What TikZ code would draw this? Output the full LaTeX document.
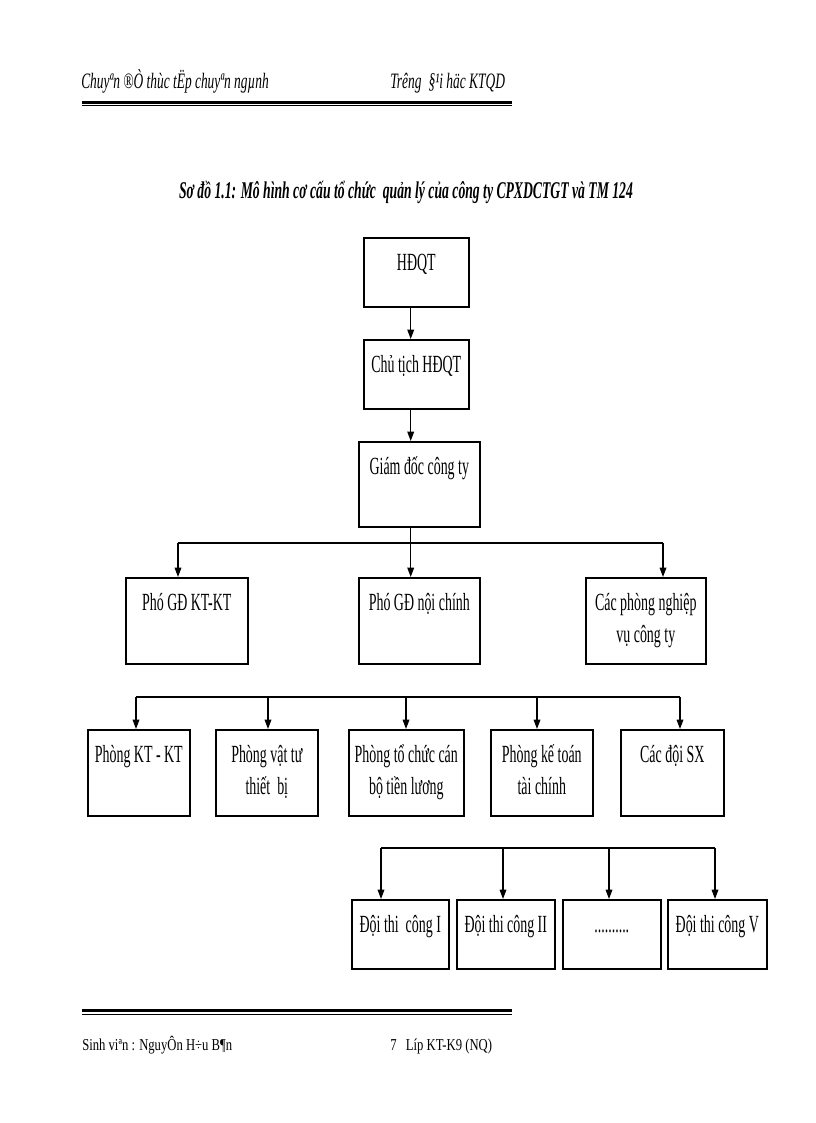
\documentclass[tikz,border=0pt]{standalone}
\usepackage{fontspec}
\setmainfont{Liberation Serif}
\newfontfamily\boxfont[FakeStretch=0.565]{Liberation Serif}
\newfontfamily\headfont[FakeStretch=0.61]{Liberation Serif}
\newfontfamily\titlefont[FakeStretch=0.57]{Liberation Serif}
\newfontfamily\footfont[FakeStretch=0.76]{Liberation Serif}
\usetikzlibrary{arrows.meta}

\tikzset{
  orgbox/.style 2 args={draw, line width=1.2pt, anchor=north west, inner sep=0pt, align=center,
    font=\boxfont\fontsize{18.5}{24}\selectfont, minimum width=#1*0.75pt,
    text height=24.75pt, text depth=#2*0.75pt-24.75pt},
  orgboxtwo/.style 2 args={orgbox={#1}{#2}, text height=48.75pt, text depth=#2*0.75pt-48.75pt},
  conn/.style={line width=0.9pt},
  arr/.style={line width=0.9pt, -{Triangle[length=7pt,width=5pt]}},
  rule/.style={line width=#1},
}

\begin{document}
\begin{tikzpicture}[x=0.75pt,y=0.75pt,yscale=-1,xscale=1]
\useasboundingbox (0,0) rectangle (816,1123);

% Text Node
\node [anchor=base west, inner sep=0pt, font=\headfont\itshape\fontsize{16.5}{18}\selectfont] (headl) at (81,88.5) {Chuyªn ®Ò thùc tËp chuyªn ngµnh};
% Text Node
\node [anchor=base west, inner sep=0pt, font=\headfont\itshape\fontsize{16.5}{18}\selectfont] (headr) at (390,88.5) {Trêng \,§¹i häc KTQD};
%Straight Lines
\draw [rule=1.6pt] (82,102.5) -- (512,102.5) ;
\draw [rule=0.9pt] (82,105.8) -- (512,105.8) ;

% Text Node
\node [anchor=base, inner sep=0pt, font=\titlefont\bfseries\itshape\fontsize{18}{20}\selectfont] (title) at (406,199) {Sơ đồ 1.1: Mô hình cơ cấu tổ chức \ quản lý của công ty CPXDCTGT và TM 124};

%Shape: Rectangle
\node [orgbox={105}{69}] (hdqt) at (363,237) {HĐQT};
%Shape: Rectangle
\node [orgbox={105}{69}] (chutich) at (363,339) {Chủ tịch HĐQT};
%Shape: Rectangle
\node [orgbox={121}{85}] (giamdoc) at (358,441) {Giám đốc công ty};

%Shape: Rectangle
\node [orgbox={122}{86}] (phokt) at (125,577) {Phó GĐ KT-KT};
%Shape: Rectangle
\node [orgbox={121}{86}] (phonc) at (358,577) {Phó GĐ nội chính};
%Shape: Rectangle
\node [orgboxtwo={120}{86}] (cacphong) at (585,577) {Các phòng nghiệp\\vụ công ty};

%Shape: Rectangle
\node [orgbox={102}{86}] (pktkt) at (87,729) {Phòng KT - KT};
%Shape: Rectangle
\node [orgboxtwo={102}{86}] (pvattu) at (215,729) {Phòng vật tư\\thiết \ bị};
%Shape: Rectangle
\node [orgboxtwo={115}{86}] (ptochuc) at (348,729) {Phòng tổ chức cán\\bộ tiền lương};
%Shape: Rectangle
\node [orgboxtwo={102}{86}] (pketoan) at (490,729) {Phòng kế toán\\tài chính};
%Shape: Rectangle
\node [orgbox={103}{86}] (caadoi) at (620,729) {Các đội SX};

%Shape: Rectangle
\node [orgbox={97}{69}] (doi1) at (351,899) {Đội thi \ công I};
%Shape: Rectangle
\node [orgbox={98}{69}] (doi2) at (456,899) {Đội thi công II};
%Shape: Rectangle
\node [orgbox={98}{69}] (doidots) at (562,899) {..........};
%Shape: Rectangle
\node [orgbox={99}{69}] (doi5) at (667,899) {Đội thi công V};

\coordinate (spine) at (410.7,0);
\coordinate (b1l) at (178,543);
\coordinate (b1r) at (663,543);
\coordinate (b2a) at (136,697);
\coordinate (b2b) at (268,697);
\coordinate (b2c) at (406,697);
\coordinate (b2d) at (537,697);
\coordinate (b2e) at (680,697);
\coordinate (b3a) at (381,848);
\coordinate (b3b) at (503,848);
\coordinate (b3c) at (609,848);
\coordinate (b3d) at (715,848);

%Straight Lines
\draw [arr] (hdqt.south -| spine) -- (chutich.north -| spine) ;
\draw [arr] (chutich.south -| spine) -- (giamdoc.north -| spine) ;
\draw [arr] (giamdoc.south -| spine) -- (phonc.north -| spine) ;
%Straight Lines
\draw [conn] (b1l) -- (b1r) ;
\draw [arr] (b1l) -- (b1l |- phokt.north) ;
\draw [arr] (b1r) -- (b1r |- cacphong.north) ;
%Straight Lines
\draw [conn] (b2a) -- (b2e) ;
\draw [arr] (b2a) -- (b2a |- pktkt.north) ;
\draw [arr] (b2b) -- (b2b |- pvattu.north) ;
\draw [arr] (b2c) -- (b2c |- ptochuc.north) ;
\draw [arr] (b2d) -- (b2d |- pketoan.north) ;
\draw [arr] (b2e) -- (b2e |- caadoi.north) ;
%Straight Lines
\draw [conn] (b3a) -- (b3d) ;
\draw [arr] (b3a) -- (b3a |- doi1.north) ;
\draw [arr] (b3b) -- (b3b |- doi2.north) ;
\draw [arr] (b3c) -- (b3c |- doidots.north) ;
\draw [arr] (b3d) -- (b3d |- doi5.north) ;

%Straight Lines
\draw [rule=1.6pt] (82,1010.5) -- (512,1010.5) ;
\draw [rule=0.9pt] (82,1014.5) -- (512,1014.5) ;
% Text Node
\node [anchor=base west, inner sep=0pt, font=\footfont\fontsize{12.5}{15}\selectfont] (footl) at (82,1050) {Sinh viªn : NguyÔn H÷u B¶n};
% Text Node
\node [anchor=base west, inner sep=0pt, font=\footfont\fontsize{12.5}{15}\selectfont] (footr) at (390,1050) {7\hspace{7pt}Líp KT-K9 (NQ)};

\end{tikzpicture}
\end{document}
